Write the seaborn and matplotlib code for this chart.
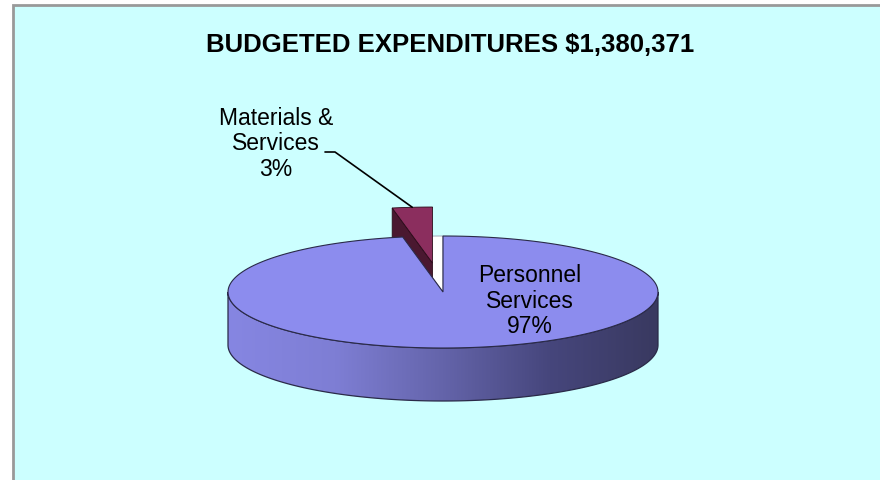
import numpy as np
import matplotlib
matplotlib.use("Agg")
import matplotlib.pyplot as plt
from matplotlib.patches import Polygon, Rectangle
import seaborn as sns

sns.set_theme(style="white")
plt.rcParams["font.family"] = ["Liberation Sans", "DejaVu Sans"]
plt.rcParams["text.color"] = "black"

# data
categories = ["Personnel Services", "Materials & Services"]
label_text = ["Personnel\nServices", "Materials &\nServices"]
shares = [97, 3]
total_budget = 1380371
exploded = [False, True]

top_colors = ["#8C8CEE", "#8B2E5E"]
wall_colors = [None, "#4A1830"]
side_cmap = sns.blend_palette(["#8686E2", "#7E7ED4", "#6464AA", "#46467C", "#393960"], as_cmap=True)

# layout of the projected pie (pixel space of the canvas)
CX, CY, RX, RY, DEPTH = 443, 292, 215, 56, 53
EXPLODE = 0.52
label_pos = [(530, 301), (276, 144)]


def pt(t, dx=0.0, dy=0.0):
    return np.array([CX + RX * np.cos(np.radians(t)) + dx, CY - RY * np.sin(np.radians(t)) + dy])


def arc(t0, t1, dx=0.0, dy=0.0, n=200):
    ts = np.linspace(t0, t1, n)
    return np.column_stack([CX + RX * np.cos(np.radians(ts)) + dx,
                            CY - RY * np.sin(np.radians(ts)) + dy])


fig = plt.figure(figsize=(8.8, 4.8), dpi=100)
fig.patch.set_facecolor("white")
ax = fig.add_axes([0, 0, 1, 1])
ax.set_xlim(0, 880)
ax.set_ylim(480, 0)
ax.axis("off")

ax.add_patch(Rectangle((13, 5), 900, 500, facecolor="#CCFFFF", edgecolor="#999999", lw=2, zorder=0))

ax.text(450, 45, f"BUDGETED EXPENDITURES ${total_budget:,}", ha="center", va="center",
        fontsize=18.5, fontweight="bold", color="black")

# slice angles: start at 12 o'clock, going clockwise
bounds = []
start = 90.0
for s in shares:
    end = start - 360.0 * s / sum(shares)
    bounds.append((end, start))
    start = end

# side wall of the main body (front half), with horizontal shading
front = arc(180, 360)
side_poly = np.vstack([front, front[::-1] + [0, DEPTH]])
side_patch = Polygon(side_poly, closed=True, facecolor="none", edgecolor="#2A2A48", lw=0.9, zorder=2)
ax.add_patch(side_patch)
grad = np.linspace(0, 1, 256)[None, :]
img = ax.imshow(grad, cmap=side_cmap, extent=(CX - RX, CX + RX, CY + RY + DEPTH + 2, CY - 2),
                aspect="auto", zorder=1)
img.set_clip_path(side_patch)
ax.set_xlim(0, 880)
ax.set_ylim(480, 0)

for i, (t_lo, t_hi) in enumerate(bounds):
    t_mid = (t_lo + t_hi) / 2
    lx, ly = label_pos[i]
    if exploded[i]:
        # gap left behind in the body
        gap = np.vstack([[CX, CY], arc(t_lo, t_hi)])
        ax.add_patch(Polygon(gap, closed=True, facecolor="white", edgecolor="#9A9AB0", lw=0.6, zorder=3))
        dx = EXPLODE * RX * np.cos(np.radians(t_mid))
        dy = -EXPLODE * RY * np.sin(np.radians(t_mid))
        tip = np.array([CX + dx, CY + dy])
        outer = pt(t_hi, dx, dy)
        wall = np.array([tip, outer, outer + [0, DEPTH], tip + [0, DEPTH]])
        ax.add_patch(Polygon(wall, closed=True, facecolor=wall_colors[i], edgecolor="#2A0A18",
                             lw=0.6, zorder=4))
        top = np.vstack([tip, arc(t_lo, t_hi, dx, dy)])
        ax.add_patch(Polygon(top, closed=True, facecolor=top_colors[i], edgecolor="#2A0A18",
                             lw=0.6, zorder=5))
        # callout label with leader line
        mx, my = pt(t_mid, dx, dy)
        ax.plot([lx + 49, lx + 59, mx], [ly + 8, ly + 8, my], color="black", lw=1.2, zorder=7)
    else:
        top = np.vstack([[CX, CY], arc(t_lo, t_hi)])
        ax.add_patch(Polygon(top, closed=True, facecolor=top_colors[i], edgecolor="#2A2A48",
                             lw=0.8, zorder=6))
    ax.text(lx, ly, f"{label_text[i]}\n{shares[i]}%", ha="center", va="center",
            fontsize=16.5, linespacing=1.15, color="black", zorder=8)

fig.savefig("out.png", dpi=100, facecolor=fig.get_facecolor())
